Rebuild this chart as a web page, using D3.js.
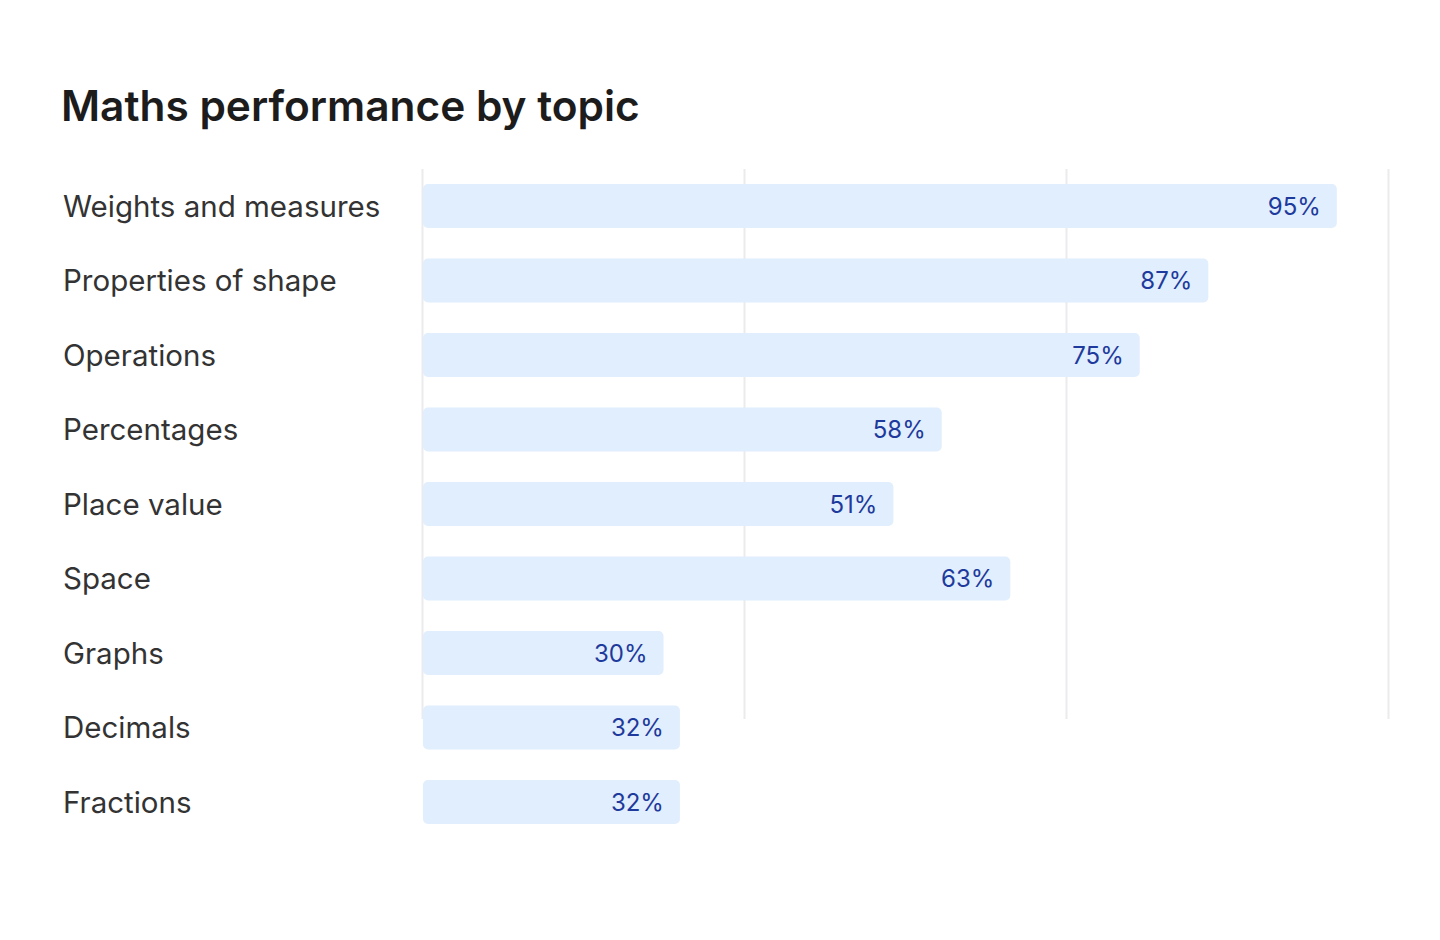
<!DOCTYPE html>
<html>
<head>
<meta charset="utf-8">
<script src="https://cdn.jsdelivr.net/npm/d3@7"></script>
<style>
  html, body { margin: 0; padding: 0; background: #ffffff; }
  svg { display: block; font-family: Inter, "Noto Sans", sans-serif; }
</style>
</head>
<body>
<svg id="chart" width="1440" height="940"></svg>
<script>
// ---- data ----
const title = "Maths performance by topic";
const categories = [
  "Weights and measures",
  "Properties of shape",
  "Operations",
  "Percentages",
  "Place value",
  "Space",
  "Graphs",
  "Decimals",
  "Fractions"
];
// bar lengths as drawn (0–100 axis)
const barValues = [94.7, 81.4, 74.3, 53.8, 48.8, 60.9, 25.0, 26.7, 26.7];
// value labels printed on the bars
const valueLabels = ["95%", "87%", "75%", "58%", "51%", "63%", "30%", "32%", "32%"];
const gridTicks = [0, 100 / 3, 200 / 3, 100];

// ---- layout ----
const svg = d3.select("#chart");
const plotLeft = 422, plotRight = 1388;
const firstBarTop = 184, step = 74.5, barH = 44;

const x = d3.scaleLinear().domain([0, 100]).range([plotLeft, plotRight]);
const pad = (step - barH) / step;
const y = d3.scaleBand()
  .domain(categories)
  .range([firstBarTop - (step - barH) / 2, firstBarTop - (step - barH) / 2 + step * categories.length])
  .paddingInner(pad)
  .paddingOuter(pad / 2);

// title
svg.append("text")
  .attr("x", 61).attr("y", 121)
  .attr("font-size", 42.4).attr("font-weight", 600)
  .attr("fill", "#1c1c1c")
  .text(title);

// gridlines
const grid = d3.axisBottom(x).tickValues(gridTicks).tickSize(-550).tickFormat("");
svg.append("g")
  .attr("transform", `translate(0,719)`)
  .call(grid)
  .call(g => g.select(".domain").remove())
  .call(g => g.selectAll(".tick line").attr("stroke", "#ebebed").attr("stroke-width", 2));

// bars
svg.append("g").selectAll("rect")
  .data(categories)
  .join("rect")
  .attr("x", x(0) + 1)
  .attr("y", d => y(d))
  .attr("width", (d, i) => x(barValues[i]) - x(0) - 1)
  .attr("height", y.bandwidth())
  .attr("rx", 5).attr("ry", 5)
  .attr("fill", "#e1eefd");

// value labels
svg.append("g").selectAll("text")
  .data(categories)
  .join("text")
  .attr("x", (d, i) => x(barValues[i]) - 16)
  .attr("y", d => y(d) + y.bandwidth() / 2)
  .attr("dy", "0.37em")
  .attr("text-anchor", "end")
  .attr("font-size", 24)
  .attr("fill", "#1d3a9c")
  .text((d, i) => valueLabels[i]);

// category labels
svg.append("g").selectAll("text")
  .data(categories)
  .join("text")
  .attr("x", 63)
  .attr("y", d => y(d) + y.bandwidth() / 2)
  .attr("dy", "0.37em")
  .attr("font-size", 29.5)
  .attr("fill", "#333333")
  .text(d => d);
</script>
</body>
</html>
